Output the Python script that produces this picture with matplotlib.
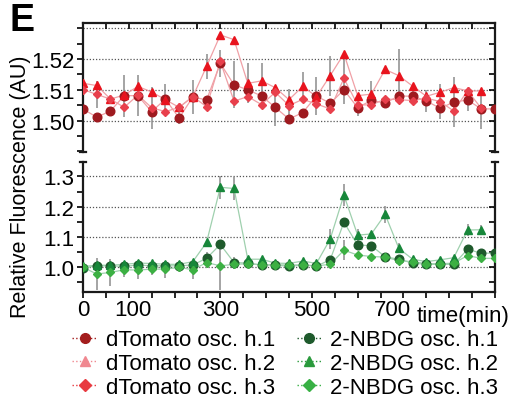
import numpy as np
import matplotlib
matplotlib.use("Agg")
import matplotlib.pyplot as plt
import matplotlib.transforms as mtransforms
from matplotlib.lines import Line2D
from matplotlib.ticker import MultipleLocator, FuncFormatter

plt.rcParams['font.family'] = ['Liberation Sans', 'DejaVu Sans']

# ---------------- data ----------------
time_min = list(range(0, 901, 30))
nan = np.nan

dtomato_h1 = [1.5038, 1.5011, 1.5031, 1.5081, 1.5081, 1.5029, 1.5070, 1.5008, 1.5077, 1.5067,
              1.5186, 1.5116, 1.5100, 1.5080, 1.5043, 1.5005, 1.5026, 1.5080, 1.5056, 1.5100,
              1.5042, 1.5066, 1.5057, 1.5080, 1.5079, 1.5064, 1.5040, 1.5060, 1.5067, 1.5038, 1.5038]
dtomato_h2 = [1.5121, 1.5114, 1.5070, 1.5083, 1.5111, 1.5093, 1.5068, 1.5043, 1.5078, 1.5176,
              1.5278, 1.5263, 1.5121, 1.5129, 1.5107, 1.5068, 1.5111, 1.5078, 1.5146, 1.5217,
              1.5081, 1.5086, 1.5166, 1.5146, 1.5112, 1.5079, 1.5092, 1.5107, 1.5097, 1.5096, nan]
dtomato_h3 = [1.5101, 1.5085, 1.5070, 1.5043, 1.5083, 1.5042, 1.5029, 1.5043, 1.5078, 1.5045,
              1.5192, 1.5063, 1.5078, 1.5052, 1.5092, 1.5049, 1.5069, 1.5054, 1.5038, 1.5137,
              1.5051, 1.5051, 1.5070, 1.5068, 1.5065, 1.5073, 1.5062, 1.5031, 1.5097, 1.5040, nan]

dtomato_h1_err = [0, 0, 0, 0.0068, 0.0066, 0, 0.0048, 0.0020, 0.0054, 0,
                  0.0043, 0.0076, 0, 0, 0.0060, 0, 0, 0.0062, 0, 0,
                  0, 0, 0.0012, 0, 0.0024, 0.0035, 0, 0.0080, 0.0035, 0.0065, 0]
dtomato_h2_err = [0, 0, 0, 0, 0, 0, 0, 0, 0, 0.0040,
                  0, 0, 0.0065, 0.0057, 0, 0, 0.0046, 0, 0.0065, 0,
                  0, 0.0043, 0, 0.0087, 0, 0, 0, 0, 0, 0, 0]
dtomato_h3_err = [0, 0.0045, 0, 0, 0, 0.0068, 0, 0, 0, 0,
                  0, 0, 0, 0, 0, 0.0054, 0, 0, 0, 0.0084,
                  0.0035, 0, 0, 0, 0, 0, 0.0056, 0, 0, 0, 0]

nbdg_h1 = [0.996, 1.003, 1.003, 1.001, 1.006, 1.003, 1.003, 1.003, 1.006, 1.028,
           1.074, 1.014, 1.012, 1.006, 1.006, 1.001, 1.006, 1.002, 1.023, 1.148,
           1.072, 1.070, 1.033, 1.025, 1.012, 1.008, 1.008, 1.008, 1.058, 1.045, 1.045]
nbdg_h2 = [1.001, 1.005, 1.005, 1.008, 1.012, 1.011, 1.008, 1.008, 1.017, 1.081,
           1.264, 1.260, 1.025, 1.025, 1.012, 1.011, 1.019, 1.011, 1.092, 1.238,
           1.105, 1.109, 1.174, 1.061, 1.025, 1.017, 1.023, 1.030, 1.122, 1.123, nan]
nbdg_h3 = [0.998, 0.976, 0.981, 0.990, 0.989, 0.992, 0.992, 0.998, 0.990, 1.014,
           1.003, 1.008, 1.010, 1.006, 1.006, 1.006, 1.006, 1.003, 1.008, 1.055,
           1.039, 1.034, 1.032, 1.020, 1.017, 1.010, 1.010, 1.012, 1.037, 1.028, 1.028]

nbdg_h1_err = [0, 0, 0, 0, 0, 0, 0, 0.015, 0, 0.022,
               0, 0.020, 0.010, 0, 0.008, 0, 0.010, 0, 0, 0,
               0, 0, 0, 0, 0, 0, 0, 0, 0, 0, 0]
nbdg_h2_err = [0, 0, 0, 0, 0, 0, 0, 0, 0, 0,
               0.039, 0.039, 0, 0, 0, 0, 0, 0, 0.033, 0.036,
               0.022, 0, 0.028, 0.017, 0, 0, 0, 0, 0.020, 0.017, 0]
nbdg_h3_err = [0, 0.053, 0.044, 0.024, 0.030, 0.021, 0.028, 0, 0.030, 0,
               0.080, 0, 0, 0, 0, 0, 0, 0, 0, 0.033,
               0, 0, 0, 0, 0, 0, 0, 0, 0, 0, 0]

labels_dt = ['dTomato osc. h.1', 'dTomato osc. h.2', 'dTomato osc. h.3']
labels_ng = ['2-NBDG osc. h.1', '2-NBDG osc. h.2', '2-NBDG osc. h.3']
xtick_labels = ['0', '100', '300', '500', '700']
top_ytick_labels = ['1.50', '1.51', '1.52']
bot_ytick_labels = ['1.0', '1.1', '1.2', '1.3']

FS = 16

# ---------------- figure ----------------
fig = plt.figure(figsize=(5.09, 4.02), dpi=100)
ax_top = fig.add_axes([0.163, 0.6194, 0.8095, 0.3209])
ax_bot = fig.add_axes([0.163, 0.2711, 0.8095, 0.3234])

t = np.array(time_min)
dt_cols = ['#9e1a1f', '#e8141e', '#e8404c']
ng_cols = ['#1e5a2c', '#17873a', '#3cb043']
markers = ['o', '^', 'D']
msizes = [6.2, 6.2, 4.5]
err_col = '#8c8c8c'

def draw(ax, series, errs, cols, linecol):
    for s, e in zip(series, errs):
        s = np.array(s, dtype=float); e = np.array(e, dtype=float)
        m = e > 0
        ax.errorbar(t[m], s[m], yerr=e[m], fmt='none', ecolor=err_col,
                    elinewidth=1.3, alpha=0.85, zorder=1)
    for s in series:
        ax.plot(t, s, color=linecol, lw=0.9, zorder=2)
    for s, c, mk, ms in zip(series, cols, markers, msizes):
        ax.plot(t, s, ls='none', marker=mk, color=c, ms=ms, mec=c, zorder=3)

draw(ax_top, [dtomato_h1, dtomato_h2, dtomato_h3],
     [dtomato_h1_err, dtomato_h2_err, dtomato_h3_err], dt_cols, '#f0a0a6')
draw(ax_bot, [nbdg_h1, nbdg_h2, nbdg_h3],
     [nbdg_h1_err, nbdg_h2_err, nbdg_h3_err], ng_cols, '#9fd0ae')

for ax in (ax_top, ax_bot):
    ax.set_xlim(0, 900)
    ax.xaxis.set_major_locator(MultipleLocator(50))
    for sp in ax.spines.values():
        sp.set_linewidth(1.6)
        sp.set_color('#1a1a1a')
    ax.yaxis.set_ticks_position('both')
    ax.tick_params(axis='y', which='both', direction='out', length=4, width=1.2,
                   labelsize=FS, pad=2)

# top panel
ax_top.set_ylim(1.4898, 1.5317)
ax_top.yaxis.set_major_locator(MultipleLocator(0.005))
ax_top.yaxis.set_major_formatter(FuncFormatter(
    lambda v, p: f'{v:.2f}' if f'{v:.3f}'[:-1] in top_ytick_labels and f'{v:.3f}'.endswith('0') else ''))
for g in [1.50, 1.51, 1.52, 1.53]:
    ax_top.axhline(g, color='#555555', lw=0.9, ls=(0, (1, 1.5)), zorder=0)
ax_top.spines['bottom'].set_visible(False)
ax_top.tick_params(axis='x', which='both', bottom=False, labelbottom=False,
                   top=True, direction='in', length=4, width=1.2)

# bottom panel
ax_bot.set_ylim(0.916, 1.348)
ax_bot.yaxis.set_major_locator(MultipleLocator(0.05))
ax_bot.yaxis.set_major_formatter(FuncFormatter(
    lambda v, p: f'{v:.1f}' if f'{v:.2f}'[:-1] in bot_ytick_labels and f'{v:.2f}'.endswith('0') else ''))
for g in [1.0, 1.1, 1.2, 1.3]:
    ax_bot.axhline(g, color='#555555', lw=0.9, ls=(0, (1, 1.5)), zorder=0)
ax_bot.spines['top'].set_visible(False)
ax_bot.xaxis.set_major_formatter(FuncFormatter(
    lambda v, p: str(int(round(v))) if str(int(round(v))) in xtick_labels else ''))
ax_bot.tick_params(axis='x', which='both', bottom=True, top=False, direction='out',
                   length=4, width=1.2, labelsize=FS, pad=1)

# right spine ticks point inward; nudge a couple of x labels as in the reference
fig.canvas.draw()
for ax in (ax_top, ax_bot):
    for tk in ax.yaxis.get_major_ticks():
        tk.tick2line.set_marker(matplotlib.lines.TICKLEFT)
nudges = {'100': 4, '700': -11}
for lab in ax_bot.get_xticklabels():
    txt = lab.get_text()
    if txt in nudges:
        lab.set_transform(lab.get_transform() +
                          mtransforms.ScaledTranslation(nudges[txt] / 100, 0, fig.dpi_scale_trans))

# break caps
for ax, yy in ((ax_top, 0.0), (ax_bot, 1.0)):
    for xx in (0.0, 1.0):
        ax.plot([xx - 0.008, xx + 0.008], [yy, yy], transform=ax.transAxes,
                color='#1a1a1a', lw=1.6, clip_on=False, zorder=5)

fig.text(0.818, 0.2, 'time(min)', fontsize=FS, ha='left', va='baseline')

fig.text(0.040, 0.535, 'Relative Fluorescence (AU)', rotation=90, fontsize=15.5,
         ha='center', va='center')
fig.text(0.018, 0.993, 'E', fontsize=27, fontweight='bold', ha='left', va='top')

# legend (proxy handles)
leg_dt = ['#a31d1d', '#f08890', '#e83a40']
leg_ng = ['#1e5a2c', '#2a9a3c', '#38b044']
handles = []
labs = []
for c, mk, lab in zip(leg_dt, markers, labels_dt):
    handles.append(Line2D([], [], color=c, ls=':', lw=1.0, marker=mk,
                          ms=7 if mk != 'D' else 6, mec=c))
    labs.append(lab)
for c, mk, lab in zip(leg_ng, markers, labels_ng):
    handles.append(Line2D([], [], color=c, ls=':', lw=1.0, marker=mk,
                          ms=7 if mk != 'D' else 6, mec=c))
    labs.append(lab)
fig.legend(handles, labs, ncol=2, loc='upper left', bbox_to_anchor=(0.142, 0.178),
           frameon=False, fontsize=FS, handlelength=1.1, handletextpad=0.4,
           columnspacing=1.0, labelspacing=0.12, borderaxespad=0, borderpad=0)

fig.savefig('out.png', dpi=100)
